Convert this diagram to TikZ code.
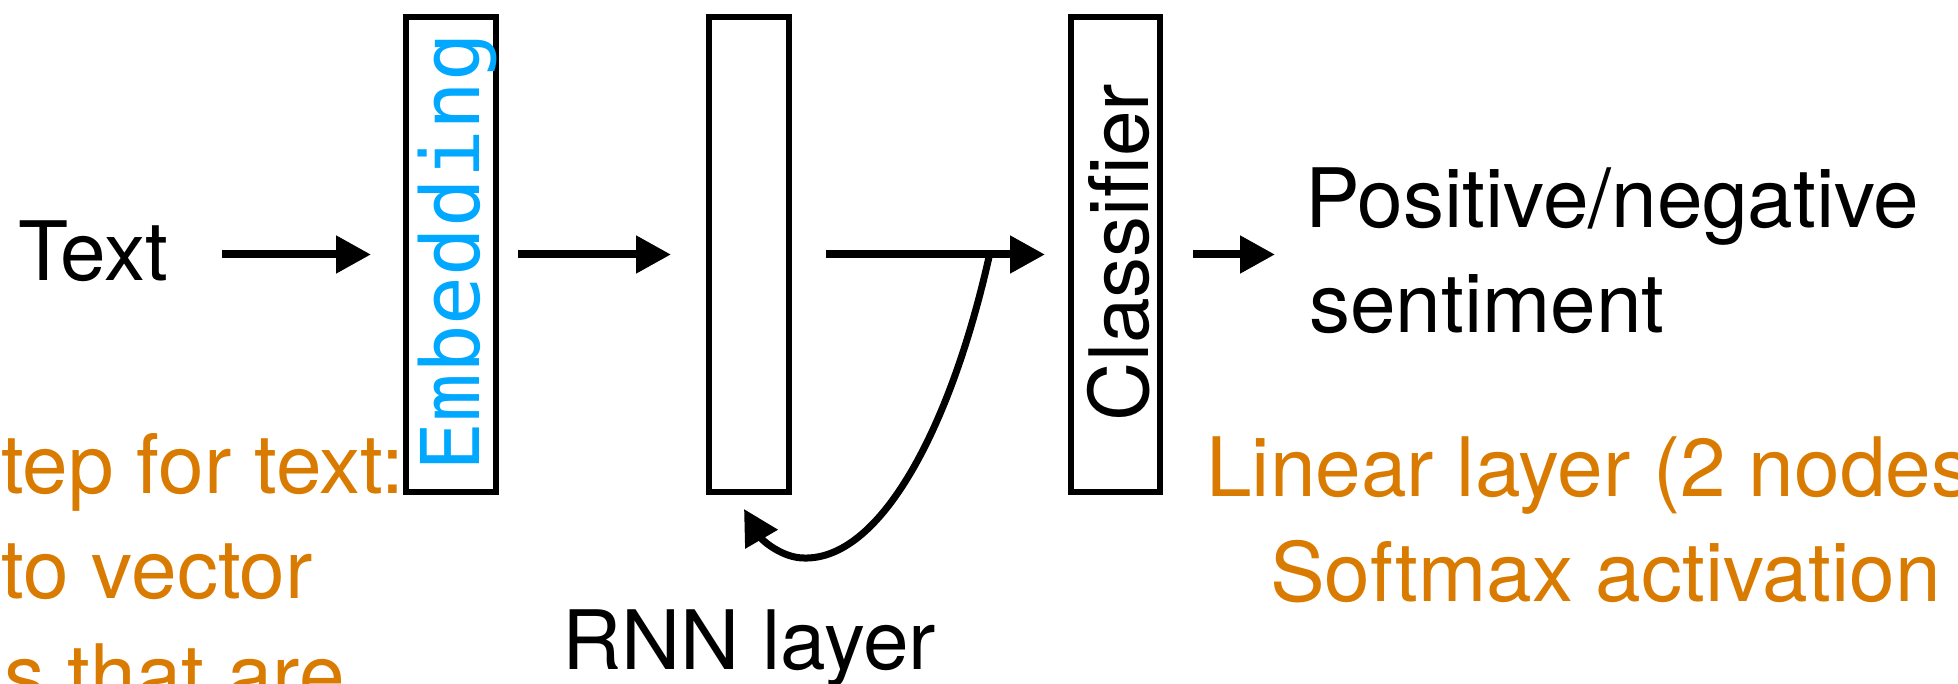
\documentclass[tikz,border=0pt]{standalone}
\usepackage{fontspec}
\setmainfont{TeX Gyre Heros}
\newfontfamily\codefont{DejaVu Sans Mono}
\usetikzlibrary{arrows.meta}
\definecolor{noteorange}{RGB}{217,123,0}
\definecolor{embblue}{RGB}{0,168,255}
\tikzset{
  layerbox/.style={draw=black, line width=6pt, rectangle, inner sep=0pt, minimum height=475pt},
  flow/.style={line width=8pt, -{Triangle[length=35pt,width=36pt]}},
  loopflow/.style={line width=7pt, -{Triangle[length=35pt,width=36pt]}},
  bigtext/.style={font=\fontsize{82}{100}\selectfont, inner sep=0pt, text=black},
  notetext/.style={font=\fontsize{82}{100}\selectfont, inner sep=0pt, text=noteorange},
}
\begin{document}
\begin{tikzpicture}[x=1pt, y=-1pt]
  % page area
  \fill[white] (0,0) rectangle (1958,684);
  \useasboundingbox (0,0) rectangle (1958,684);

  % layer boxes
  \node[layerbox, minimum width=90pt] (emb) at (451,254.5) {};
  \node[layerbox, minimum width=80pt] (rnn) at (749,254.5) {};
  \node[layerbox, minimum width=89pt] (cls) at (1115.5,254.5) {};

  % labels inside the boxes
  \node[rotate=90, anchor=base, inner sep=0pt, text=embblue,
        font=\codefont\fontsize{81}{100}\selectfont] (embtxt) at (479,252) {Embedding};
  \node[bigtext, rotate=90, anchor=base] (clstxt) at (1148,252.5) {Classifier};

  % input and output texts
  \node[bigtext, anchor=base west] (txt) at (18,281) {Text};
  \node[bigtext, anchor=base west] (pos) at (1305,228) {Positive/negative};
  \node[bigtext, anchor=base west] (sent) at (1309,332) {sentiment};
  \node[bigtext, anchor=base west] (rnnlbl) at (562,669) {RNN layer};

  % notes
  \node[notetext, anchor=base east] (n1) at (404,493) {tep for text:};
  \node[notetext, anchor=base east] (n2) at (313,598) {to vector};
  \node[notetext, anchor=base east] (n3) at (345,703) {s that are};
  \node[notetext, anchor=base west] (l1) at (1206,496) {Linear layer (2 nodes};
  \node[notetext, anchor=base west] (l2) at (1270,601) {Softmax activation};

  % forward flow
  \draw[flow] ([xshift=-181pt]emb.west) -- ([xshift=-32pt]emb.west);
  \draw[flow] ([xshift=19pt]emb.east) -- ([xshift=-35pt]rnn.west);
  \draw[flow] ([xshift=34pt]rnn.east) -- ([xshift=-23pt]cls.west);
  \draw[flow] ([xshift=30pt]cls.east) -- ([xshift=112pt]cls.east);

  % recurrent loop back into the RNN layer
  \coordinate (loopstart) at (989,257);
  \coordinate (loopbottom) at (804,558);
  \coordinate (loopend) at ([shift={(-5pt,-14pt)}]rnn.south);
  \draw[loopflow] (loopstart) .. controls (950,430) and (880,560) .. (loopbottom)
                  .. controls (782,558) and (762,540) .. (loopend);
\end{tikzpicture}
\end{document}
